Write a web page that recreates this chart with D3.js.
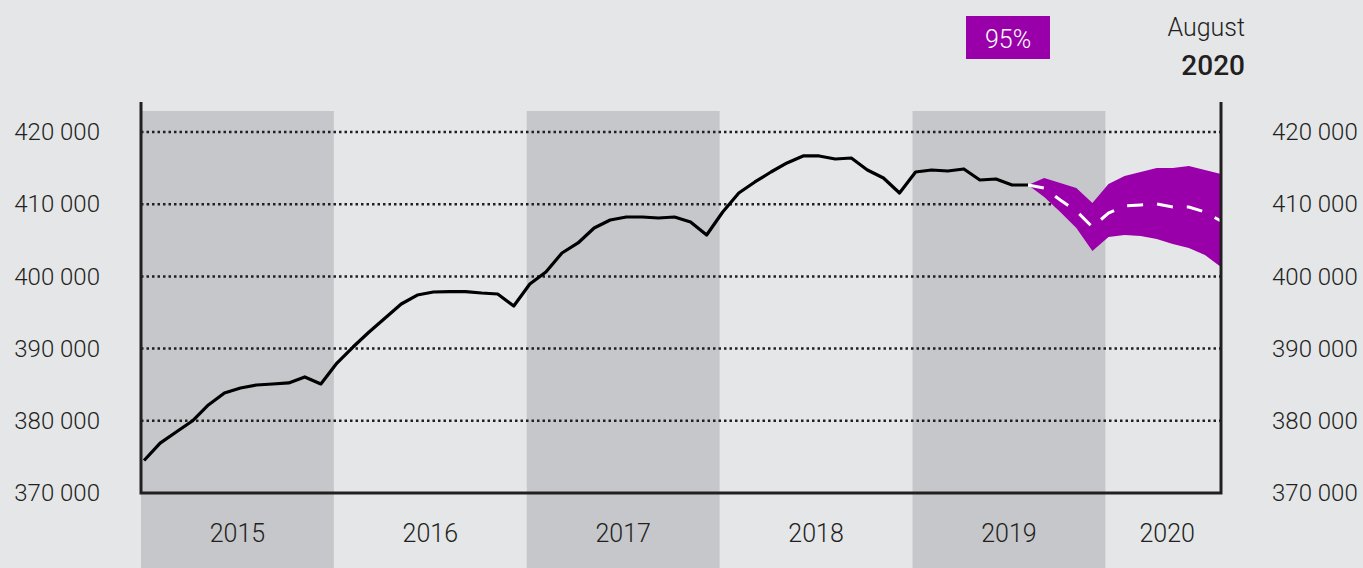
<!DOCTYPE html>
<html>
<head>
<meta charset="utf-8">
<script src="https://cdn.jsdelivr.net/npm/d3@7"></script>
<style>
  body { margin: 0; background: #e5e6e8; }
  svg { display: block; font-family: Roboto, "Noto Sans", sans-serif; }
</style>
</head>
<body>
<div id="main"></div>
<script>
// monthly values, Jan 2015 - Aug 2019 (actual)
const actual = [
  374500, 376900, 378450, 379970, 382190, 383850, 384540, 384960, 385100, 385240, 386070, 385100,
  388000, 390220, 392300, 394240, 396180, 397420, 397840, 397900, 397900, 397700, 397560, 395900,
  398950, 400610, 403240, 404630, 406700, 407810, 408230, 408230, 408090, 408230, 407540, 405730,
  408920, 411550, 413080, 414460, 415710, 416680, 416680, 416260, 416400, 414740, 413630, 411550,
  414460, 414740, 414600, 414880, 413350, 413490, 412660, 412660
];

// forecast Aug 2019 - Aug 2020
const forecast = [412660, 412240, 410580, 409060, 406840, 408780, 409750, 409890, 410030, 409610, 409610, 408920, 407670];
const upper    = [412660, 413630, 412940, 412240, 410170, 412800, 413910, 414460, 415010, 415010, 415290, 414740, 414180];
const lower    = [412660, 411000, 408920, 406700, 403520, 405460, 405730, 405600, 405180, 404490, 403930, 402960, 401300];

const years = [2015, 2016, 2017, 2018, 2019, 2020];
const yTicks = [370000, 380000, 390000, 400000, 410000, 420000];

const width = 1363, height = 568;
const margin = {left: 141, right: 1221, top: 102, bottom: 494};

const svg = d3.select("#main")
  .append("svg")
    .attr("width", width)
    .attr("height", height);

const x = d3.scaleLinear().domain([-0.19, 67]).range([margin.left, margin.right]);
const y = d3.scaleLinear().domain([370000, 420000]).range([493, 132]);

const fmt = d => d3.format(",")(d).replace(/,/g, " ");

// year bands (odd years shaded)
years.forEach((yr, i) => {
  const x0 = x(i * 12 - 0.19);
  const x1 = Math.min(x((i + 1) * 12 - 0.19), margin.right);
  if (i % 2 === 0) {
    svg.append("rect")
      .attr("x", x0).attr("y", 111)
      .attr("width", x1 - x0).attr("height", height - 111)
      .attr("fill", "#c6c7ca");
  }
  svg.append("text")
    .attr("x", (x0 + x1) / 2 + (i === 5 ? 4 : 0))
    .attr("y", 542)
    .attr("text-anchor", "middle")
    .attr("font-size", 25)
    .attr("font-weight", 300)
    .attr("fill", "#231f20")
    .text(yr);
});

// dotted grid
svg.append("g")
  .selectAll("line")
  .data(yTicks.slice(1))
  .join("line")
    .attr("x1", margin.left).attr("x2", margin.right)
    .attr("y1", d => y(d)).attr("y2", d => y(d))
    .attr("stroke", "#231f20")
    .attr("stroke-width", 2.5)
    .attr("stroke-dasharray", "2.5,3");

// tick labels both sides
const yAxisL = d3.axisLeft(y).tickValues(yTicks).tickFormat(fmt).tickSize(0).tickPadding(41);
const yAxisR = d3.axisRight(y).tickValues(yTicks).tickFormat(fmt).tickSize(0).tickPadding(51);
[svg.append("g").attr("transform", `translate(${margin.left},0)`).call(yAxisL),
 svg.append("g").attr("transform", `translate(${margin.right},0)`).call(yAxisR)].forEach(g => {
  g.select(".domain").remove();
  g.selectAll("text")
    .attr("font-size", 24)
    .attr("font-weight", 300)
    .attr("fill", "#231f20")
    .attr("font-family", "Roboto, sans-serif");
});

// confidence band
const fIdx = i => 55 + i;
svg.append("path")
  .datum(forecast.map((d, i) => i))
  .attr("fill", "#9a00a9")
  .attr("d", d3.area()
    .x(i => x(fIdx(i)))
    .y0(i => y(lower[i]))
    .y1(i => y(upper[i])));

// actual line
svg.append("path")
  .datum(actual)
  .attr("fill", "none")
  .attr("stroke", "#000")
  .attr("stroke-width", 3.2)
  .attr("stroke-linejoin", "round")
  .attr("d", d3.line().x((d, i) => x(i)).y(d => y(d)));

// forecast line
svg.append("path")
  .datum(forecast)
  .attr("fill", "none")
  .attr("stroke", "#fff")
  .attr("stroke-width", 3)
  .attr("stroke-dasharray", "16,14")
  .attr("d", d3.line().x((d, i) => x(fIdx(i))).y(d => y(d)));

// axis frame
svg.append("path")
  .attr("d", `M${margin.left},${margin.top}V${margin.bottom - 1}H${margin.right}V${margin.top}`)
  .attr("fill", "none")
  .attr("stroke", "#231f20")
  .attr("stroke-width", 3);

// legend
svg.append("rect")
  .attr("x", 966).attr("y", 16)
  .attr("width", 84).attr("height", 43)
  .attr("fill", "#9a00a9");
svg.append("text")
  .attr("x", 1008).attr("y", 48)
  .attr("text-anchor", "middle")
  .attr("font-size", 25)
  .attr("font-weight", 300)
  .attr("fill", "#fff")
  .text("95%");

svg.append("text")
  .attr("x", 1245).attr("y", 36)
  .attr("text-anchor", "end")
  .attr("font-size", 25)
  .attr("font-weight", 300)
  .attr("fill", "#231f20")
  .text("August");
svg.append("text")
  .attr("x", 1245).attr("y", 75)
  .attr("text-anchor", "end")
  .attr("font-size", 28)
  .attr("font-weight", 500)
  .attr("fill", "#231f20")
  .text("2020");
</script>
</body>
</html>
